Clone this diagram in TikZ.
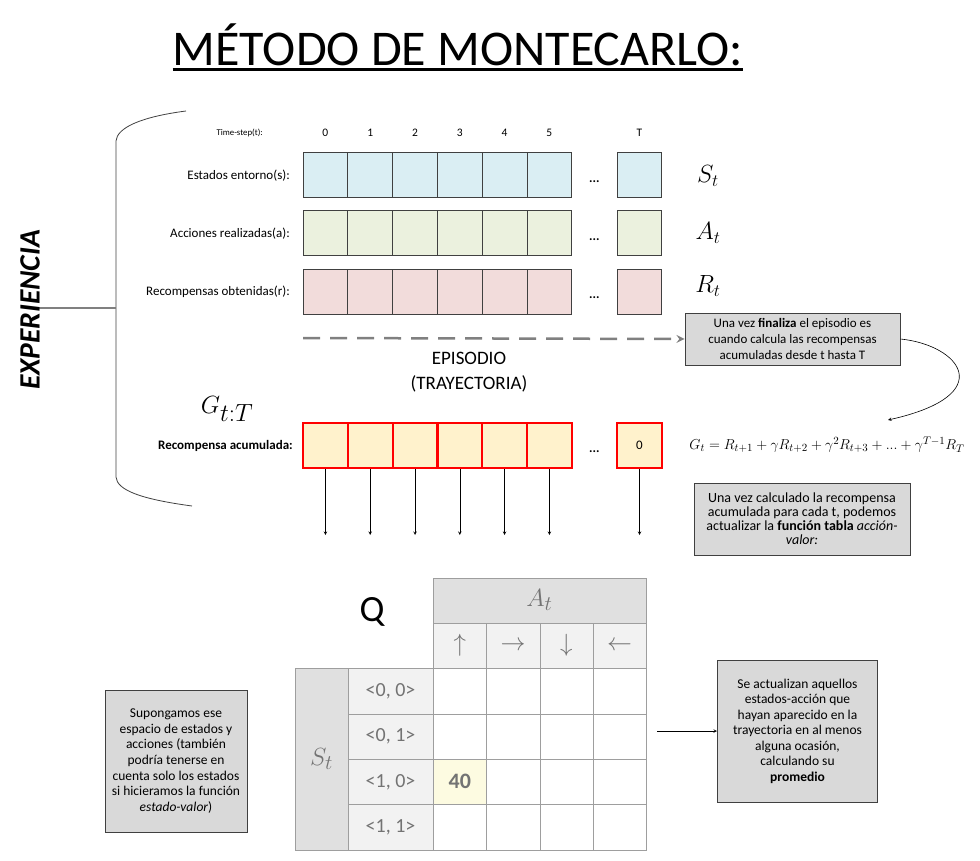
\documentclass[tikz,border=0pt]{standalone}
\usepackage{fontspec}
\setmainfont{Carlito}
\usetikzlibrary{positioning,calc}
\definecolor{borde}{HTML}{404040}
\definecolor{azulceld}{HTML}{DAEEF3}
\definecolor{verdeceld}{HTML}{EBF1DE}
\definecolor{rosaceld}{HTML}{F2DCDB}
\definecolor{amarceld}{HTML}{FFF2CC}
\definecolor{cajagris}{HTML}{D9D9D9}
\definecolor{qoscuro}{HTML}{E0E0E0}
\definecolor{qclaro}{HTML}{F2F2F2}
\definecolor{qlinea}{HTML}{9E9E9E}
\definecolor{qtexto}{HTML}{737373}
\definecolor{qamar}{HTML}{FDFBE1}
\tikzset{
  celda/.style={draw=borde,line width=1pt,minimum width=44.8,minimum height=45,inner sep=0pt},
  celdaroja/.style={celda,draw=red,line width=2.2pt,fill=amarceld},
  etiqueta/.style={anchor=east,inner sep=0pt,font=\fontsize{13}{15}\selectfont},
  caja/.style={draw=borde,line width=1pt,fill=cajagris,align=center,inner sep=0pt},
  flecha/.style={->,>=stealth,line width=0.6pt,draw=black},
}
\begin{document}
\begin{tikzpicture}[x=1pt,y=-1pt]
        \useasboundingbox (0,0) rectangle (980,861);
        % Title
        \node[inner sep=0pt,font=\fontsize{50}{56}\selectfont] (titulo) at (458,45) {MÉTODO DE MONTECARLO:};
        \draw[line width=2.5pt]([yshift=-3pt]titulo.south west)--([yshift=-3pt]titulo.south east);
        % Experiencia brace
        \draw[borde,line width=0.8pt](186,111)..controls(140,117)and(117,128)..(116,141)--(116,477)..controls(117,490)and(140,499)..(192,506);
        \draw[gray,line width=1.5pt](38,308)--(116,308);
        \node[rotate=90,inner sep=0pt,font=\bfseries\itshape\fontsize{29.5}{32}\selectfont] (experiencia) at (30,310) {EXPERIENCIA};
        % Time steps
        \node[etiqueta,font=\fontsize{8.8}{10}\selectfont] (timestep) at (263,133) {Time-step(t):};
        \foreach \i in {0,...,5}
            \node[inner sep=0pt,font=\fontsize{11.5}{13}\selectfont] (t\i) at (325.4+44.8*\i,133) {\i};
        \node[inner sep=0pt,font=\fontsize{11.5}{13}\selectfont] (tT) at (639.5,133) {T};
        % Rows of the episode
        \foreach \i in {0,...,5}{
            \node[celda,fill=azulceld] (s\i) at (325.4+44.8*\i,175.5) {};
            \node[celda,fill=verdeceld] (a\i) at (325.4+44.8*\i,233.5) {};
            \node[celda,fill=rosaceld] (r\i) at (325.4+44.8*\i,291.5) {};
            \node[celdaroja] (g\i) at (325.4+44.8*\i,445.5) {};
        }
        \node[celda,fill=azulceld] (sT) at (639.5,175.5) {};
        \node[celda,fill=verdeceld] (aT) at (639.5,233.5) {};
        \node[celda,fill=rosaceld] (rT) at (639.5,291.5) {};
        \node[celdaroja,font=\fontsize{13}{15}\selectfont] (gT) at (639.5,445.5) {0};
        \foreach \f in {s,a,r,g}
            \node[inner sep=0pt,font=\bfseries\fontsize{13}{15}\selectfont] (puntos\f) at ($(\f5)+(45,6)$) {...};
        % Row labels
        \node[etiqueta] (lestados) at (290,176) {Estados entorno(s):};
        \node[etiqueta] (lacciones) at (290,234) {Acciones realizadas(a):};
        \node[etiqueta] (lrecomp) at (290,292) {Recompensas obtenidas(r):};
        \node[etiqueta,font=\bfseries\fontsize{13}{15}\selectfont] (lacum) at (293,446) {Recompensa acumulada:};
        \node[inner sep=0pt,font=\fontsize{23}{26}\selectfont] (simS) at (708,176) {$S_t$};
        \node[inner sep=0pt,font=\fontsize{23}{26}\selectfont] (simA) at (708,233) {$A_t$};
        \node[inner sep=0pt,font=\fontsize{23}{26}\selectfont] (simR) at (708,286) {$R_t$};
        \node[inner sep=0pt,font=\fontsize{36}{40}\selectfont] (simG) at (227,409) {$G_{t:T}$};
        % Episode arrow and notes
        \node[caja,minimum width=215,minimum height=52,font=\fontsize{13}{16}\selectfont] (nota1) at (792.5,339) {Una vez \textbf{finaliza} el episodio es\\cuando calcula las recompensas\\acumuladas desde t hasta T};
        \coordinate (epiini) at (303,338);
        \draw[gray,line width=2.5pt,dash pattern=on 17pt off 10pt,->,>=stealth](epiini)--(nota1.west);
        \node[align=center,inner sep=0pt,font=\fontsize{19}{25}\selectfont] (episodio) at (469,372) {EPISODIO\\(TRAYECTORIA)};
        \node[inner sep=0pt,font=\fontsize{15.5}{17}\selectfont] (formula) at (827,445) {$G_t = R_{t+1} + \gamma R_{t+2} + \gamma^2 R_{t+3} + ... + \gamma^{T-1} R_T$};
        \draw[flecha](nota1.east)..controls(960,345)and(1000,395)..(888,420);
        \node[caja,minimum width=216,minimum height=72,font=\fontsize{14}{14}\selectfont] (nota2) at (802,519) {Una vez calculado la recompensa\\acumulada para cada t, podemos\\actualizar la \textbf{función tabla} \textit{acción-}\\\textit{valor:}};
        % Arrows to the table
        \foreach \i in {0,...,5}{
            \coordinate (fin\i) at (325.4+44.8*\i,535);
            \draw[flecha](g\i.south)--(fin\i);
        }
        \coordinate (finT) at (639.5,535);
        \draw[flecha](gT.south)--(finT);
        % Q table
        \node[inner sep=0pt,font=\fontsize{37}{40}\selectfont] (qletra) at (372,612) {Q};
        \fill[qoscuro](433,578) rectangle (646,623);
        \fill[qclaro](433,623) rectangle (646,668);
        \fill[qoscuro](295,668) rectangle (348,850);
        \fill[qclaro](348,668) rectangle (433,850);
        \fill[qamar](433,759) rectangle (486.5,804);
        \draw[qlinea,line width=1pt](433,578) rectangle (646,668);
        \draw[qlinea,line width=1pt](433,623)--(646,623);
        \draw[qlinea,line width=1pt](295,668) rectangle (646,850);
        \foreach \x in {486.5,540,593}
            \draw[qlinea,line width=1pt](\x,623)--(\x,850);
        \draw[qlinea,line width=1pt](433,623)--(433,850);
        \draw[qlinea,line width=1pt](348,668)--(348,850);
        \foreach \y in {714,759,804}
            \draw[qlinea,line width=1pt](348,\y)--(646,\y);
        \node[text=qtexto,inner sep=0pt,font=\fontsize{30}{32}\selectfont] (qA) at (539.5,600) {$A_t$};
        \node[text=qtexto,inner sep=0pt,font=\fontsize{30}{32}\selectfont] (qS) at (321.5,759) {$S_t$};
        \foreach \flechita [count=\k from 0] in {\uparrow,\rightarrow,\downarrow,\leftarrow}
            \node[text=qtexto,inner sep=0pt,font=\fontsize{24}{26}\selectfont] (acc\k) at (459.75+53.25*\k,645.5) {$\flechita$};
        \foreach \estado [count=\k from 0] in {{<0, 0>},{<0, 1>},{<1, 0>},{<1, 1>}}
            \node[text=qtexto,inner sep=0pt,font=\fontsize{20}{22}\selectfont] (est\k) at (390.5,691+45.5*\k) {\estado};
        \node[text=qtexto,inner sep=0pt,font=\bfseries\fontsize{22}{24}\selectfont] (valor) at (459.75,781.5) {40};
        % Side notes
        \node[caja,minimum width=142,minimum height=142,font=\fontsize{13.5}{15.6}\selectfont] (nota3) at (176,761) {Supongamos ese\\espacio de estados y\\acciones (también\\podría tenerse en\\cuenta solo los estados\\si hicieramos la función\\\textit{estado-valor})};
        \node[caja,minimum width=160,minimum height=142,font=\fontsize{13.5}{15.5}\selectfont] (nota4) at (797.5,731) {Se actualizan aquellos\\estados-acción que\\hayan aparecido en la\\trayectoria en al menos\\alguna ocasión,\\calculando su\\\textbf{promedio}};
        \coordinate (tablader) at (657,731);
        \draw[flecha](tablader)--(nota4.west);
\end{tikzpicture}
\end{document}
